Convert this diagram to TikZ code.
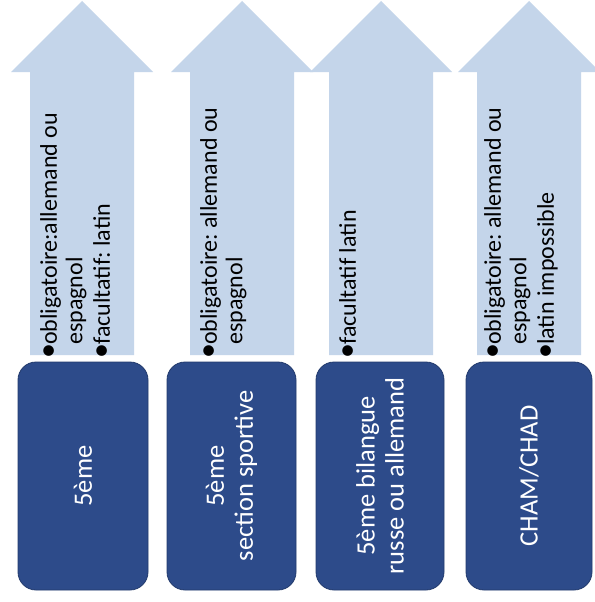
\documentclass[tikz,border=0pt]{standalone}
\usepackage{fontspec}
\setmainfont{Carlito}
\frenchspacing
\definecolor{lightarrow}{RGB}{196,213,234}
\definecolor{darkbox}{RGB}{45,75,138}
\definecolor{darkedge}{RGB}{34,58,108}
\newcommand\bl{\makebox[12pt][l]{\kern-1.5pt\raisebox{-0.5pt}{\fontsize{30}{0}\selectfont\textbullet}}}
\newcommand\ind{\hspace*{12pt}}
\tikzset{
  uparrow/.style={fill=lightarrow, draw=none},
  arrtxt/.style={rotate=90, anchor=north west, inner sep=0pt, align=left, text=black,
    font=\fontsize{24}{25.5}\selectfont},
  levelbox/.style={rectangle, rounded corners=18pt, fill=darkbox, draw=darkedge, line width=0.8pt,
    rotate=90, minimum width=228pt, align=center, text=white, inner sep=0pt,
    font=\fontsize{26.5}{29}\selectfont}
}
\newcommand\uparr[1]{%
  \fill[uparrow] (#1-52,355) -- (#1-52,72) -- (#1-71,72) -- (#1,1) -- (#1+71,72) -- (#1+52,72) -- (#1+52,355) -- cycle;}
\begin{document}
\begin{tikzpicture}[x=1pt,y=-1pt]
\path[use as bounding box] (0,0) rectangle (594,602);
\fill[white] (0,0) rectangle (594,602);
\uparr{82}
\uparr{242}
\uparr{381}
\uparr{529}
\node[arrtxt] (t1) at (40,357) {\bl obligatoire:allemand ou\\\ind espagnol\\[2pt]\bl facultatif: latin};
\node[arrtxt] (t2) at (200,357) {\bl obligatoire: allemand ou\\\ind espagnol};
\node[arrtxt] (t3) at (339,357) {\bl facultatif latin};
\node[arrtxt] (t4) at (484,357) {\bl obligatoire: allemand ou\\\ind espagnol\\[2pt]\bl latin impossible};
\node[levelbox, minimum height=130pt] (b1) at (83,476) {5ème};
\node[levelbox, minimum height=129pt] (b2) at (231.5,476) {5ème\\section sportive};
\node[levelbox, minimum height=128pt] (b3) at (380,476) {5ème bilangue\\russe ou allemand};
\node[levelbox, minimum height=126pt] (b4) at (529,476) {CHAM/CHAD};
\end{tikzpicture}
\end{document}
